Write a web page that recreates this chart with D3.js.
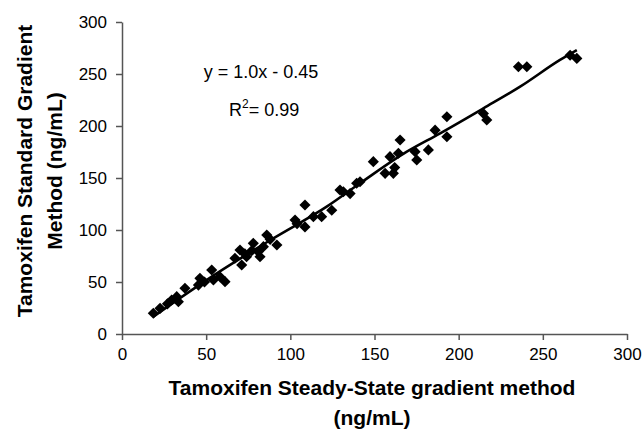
<!DOCTYPE html>
<html>
<head>
<meta charset="utf-8">
<script src="https://cdn.jsdelivr.net/npm/d3@7"></script>
<style>
  body { margin: 0; background: #fff; }
  text { font-family: "Liberation Sans", Arial, sans-serif; fill: #000; }
</style>
</head>
<body>
<div id="chart"></div>
<script>
  // scatter values (ng/mL)
  const steadyState = [18.6, 22.6, 27, 29.5, 32.5, 33.5, 37.4, 45.4, 46.3, 49, 53.3, 54.3, 58.2, 61.2,
    67.1, 70.1, 71.1, 73, 74, 77, 78, 81, 82, 84, 86, 88, 92, 102.8, 104, 108.7, 108.7, 113.7, 118.6,
    124.6, 129.5, 131.5, 135.5, 139.4, 141.4, 149.3, 156.3, 159.2, 161.2, 162, 164.2, 165.2, 174.1,
    175.1, 182, 186, 193, 193, 214.7, 216.7, 235.5, 240.5, 266.2, 270.2];
  const standard = [19.9, 24.7, 29, 32.7, 35.9, 31, 44, 47, 53.5, 50, 61.5, 52, 55, 50.3,
    72.8, 80.8, 66.3, 77, 74.3, 80, 87.2, 79, 74.3, 84, 95.2, 91, 85.6, 109.6, 106, 124, 103, 112.8, 112.8,
    119, 138.5, 136.8, 135, 145, 146.4, 165.7, 154.5, 170.5, 154.5, 160, 173.8, 186.5, 175.3,
    167.3, 177, 196, 208.9, 189.7, 212, 205.8, 257, 257, 268, 265];

  // trend line as drawn in the picture
  const trendX = [18.6, 56.3, 89.9, 121.6, 141.4, 169.2, 189, 214.7, 236.5, 260.2, 270.2];
  const trendY = [16.7, 58.3, 92, 122.4, 144.9, 175.3, 193, 217, 237.8, 263.5, 273];

  const tickValues = [0, 50, 100, 150, 200, 250, 300];
  const xTitle = ["Tamoxifen Steady-State gradient method", "(ng/mL)"];
  const yTitle = ["Tamoxifen Standard Gradient", "Method (ng/mL)"];

  const w = 643, h = 431;
  const plotLeft = 122, plotRight = 627, plotTop = 22, plotBottom = 334;

  const svg = d3.select("#chart").append("svg")
    .attr("width", w).attr("height", h);

  const x = d3.scaleLinear().domain([0, 300]).range([plotLeft, plotRight]);
  const y = d3.scaleLinear().domain([0, 300]).range([plotBottom, plotTop]);

  const xAxis = svg.append("g")
    .attr("transform", `translate(0,${plotBottom})`)
    .call(d3.axisBottom(x).tickValues(tickValues).tickSize(6).tickSizeOuter(0).tickPadding(8));
  const yAxis = svg.append("g")
    .attr("transform", `translate(${plotLeft},0)`)
    .call(d3.axisLeft(y).tickValues(tickValues).tickSize(6).tickSizeOuter(0).tickPadding(9));

  [xAxis, yAxis].forEach(g => {
    g.select(".domain").attr("stroke", "#555").attr("stroke-width", 1.5);
    g.selectAll(".tick line").attr("stroke", "#555").attr("stroke-width", 1.5);
    g.selectAll(".tick text").attr("font-size", 17).attr("fill", "#111")
      .style("font-family", "'Liberation Sans', Arial, sans-serif");
  });

  const pts = steadyState.map((d, i) => [d, standard[i]]);
  svg.append("g").selectAll("path")
    .data(pts)
    .enter()
    .append("path")
    .attr("d", d3.symbol().type(d3.symbolSquare).size(62))
    .attr("transform", d => `translate(${x(d[0])},${y(d[1])}) rotate(45)`)
    .attr("fill", "#000");

  const line = d3.line()
    .x(d => x(d[0])).y(d => y(d[1]))
    .curve(d3.curveMonotoneX);
  svg.append("path")
    .datum(trendX.map((d, i) => [d, trendY[i]]))
    .attr("d", line)
    .attr("fill", "none")
    .attr("stroke", "#000")
    .attr("stroke-width", 2.6);

  // equation
  svg.append("text")
    .attr("x", 261).attr("y", 78)
    .attr("text-anchor", "middle")
    .attr("font-size", 18)
    .text("y = 1.0x - 0.45");
  const r2 = svg.append("text")
    .attr("x", 229).attr("y", 116)
    .attr("font-size", 18);
  r2.append("tspan").text("R");
  r2.append("tspan").attr("dy", -8).attr("font-size", 12).text("2");
  r2.append("tspan").attr("dy", 8).text("= 0.99");

  // axis titles
  svg.append("g").selectAll("text")
    .data(xTitle)
    .enter()
    .append("text")
    .attr("x", 372)
    .attr("y", (d, i) => 395 + i * 30)
    .attr("text-anchor", "middle")
    .attr("font-size", 21)
    .attr("font-weight", "bold")
    .text(d => d);

  svg.append("g").selectAll("text")
    .data(yTitle)
    .enter()
    .append("text")
    .attr("transform", (d, i) => `translate(${32 + i * 30},171) rotate(-90)`)
    .attr("text-anchor", "middle")
    .attr("font-size", 21)
    .attr("font-weight", "bold")
    .text(d => d);
</script>
</body>
</html>
